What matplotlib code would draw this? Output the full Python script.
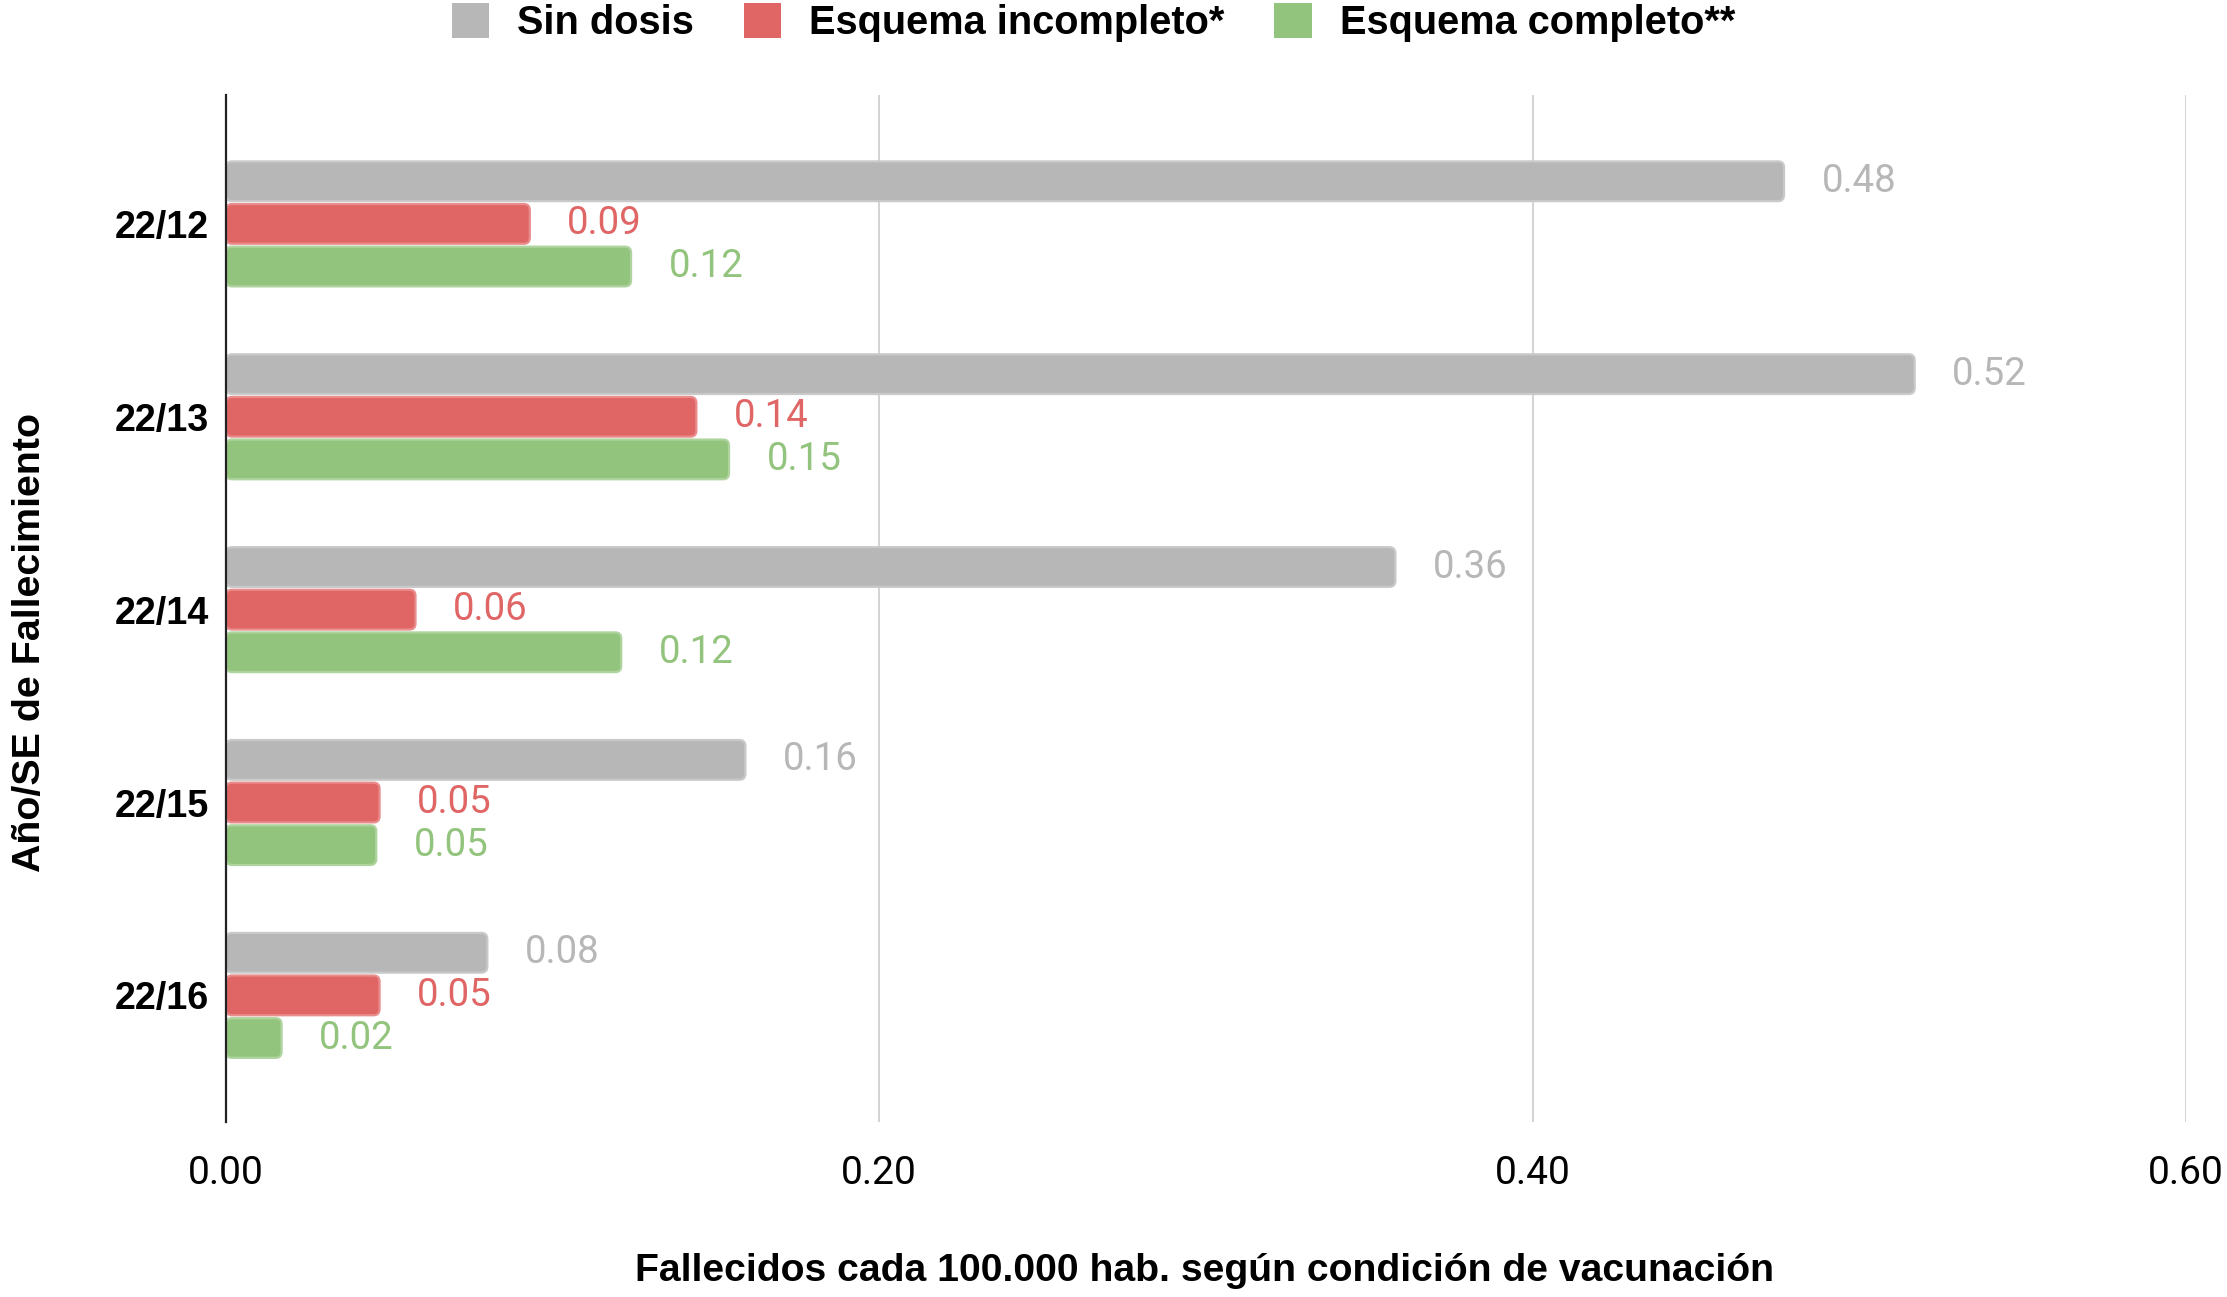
import numpy as np
import matplotlib.pyplot as plt
from matplotlib.patches import Patch, FancyBboxPatch

# Data (deaths per 100k by vaccination status)
weeks = ['22/12', '22/13', '22/14', '22/15', '22/16']
sin_dosis = [0.477, 0.517, 0.358, 0.159, 0.080]
incompleto = [0.093, 0.144, 0.058, 0.047, 0.047]
completo = [0.124, 0.154, 0.121, 0.046, 0.017]

series = [
    ('Sin dosis', sin_dosis, '#b7b7b7', '#c9c9c9'),
    ('Esquema incompleto*', incompleto, '#e06666', '#e98c8c'),
    ('Esquema completo**', completo, '#93c47d', '#b0d4a0'),
]

fig = plt.figure(figsize=(11.135, 6.485), dpi=200)
ax = fig.add_axes([0.1015, 0.135, 0.88, 0.792])
ax.set_xlim(0, 0.6)
ax.set_ylim(4.656, -0.67)

# ratio of y data units to x data units per pixel, for round corners
bb = ax.get_position()
xpp = 0.6 / (bb.width * 2227)
ypp = 5.326 / (bb.height * 1297)
aspect = ypp / xpp

y = np.arange(len(weeks))
h = 0.206
step = 0.221
for i, (name, vals, col, edge) in enumerate(series):
    pos = y + (i - 1) * step
    bars = ax.barh(pos, vals, height=h, color=col, zorder=3)
    for b in bars:
        b.set_visible(False)
        ax.add_patch(FancyBboxPatch((b.get_x(), b.get_y()), b.get_width(), b.get_height(),
                                    boxstyle='round,pad=0,rounding_size=%f' % (6 * xpp),
                                    mutation_aspect=aspect, facecolor=col, edgecolor=edge,
                                    linewidth=0.8, zorder=3))
    for p, v in zip(pos, vals):
        ax.annotate(f'{v:.2f}', (v, p), xytext=(13.5, 0), textcoords='offset points',
                    va='center', ha='left', fontsize=13.8, color=col, family='Roboto')

ax.set_xticks([0, 0.2, 0.4, 0.6])
ax.set_xticklabels(['0.00', '0.20', '0.40', '0.60'], family='Roboto', fontsize=14)
ax.set_yticks(y)
ax.set_yticklabels(weeks, family='Liberation Sans', fontweight='bold', fontsize=13.6)
ax.tick_params(axis='both', length=0)
ax.tick_params(axis='x', pad=12)
ax.tick_params(axis='y', pad=6)
ax.grid(axis='x', color='#cccccc', linewidth=0.6, zorder=0)
for s in ['top', 'right', 'bottom']:
    ax.spines[s].set_visible(False)
ax.spines['left'].set_color('#222222')
ax.spines['left'].set_linewidth(0.8)
ax.spines['left'].set_zorder(4)

fig.text(0.0135, 0.505, 'Año/SE de Fallecimiento', rotation=90, va='center', ha='center',
         family='Liberation Sans', fontweight='bold', fontsize=14.2)
fig.text(0.541, 0.02, 'Fallecidos cada 100.000 hab. según condición de vacunación',
         va='center', ha='center', family='Liberation Sans', fontweight='bold', fontsize=14.1)

handles = [Patch(facecolor=c, edgecolor='none', label=n) for n, _, c, _ in series]
fig.legend(handles=handles, loc='center', bbox_to_anchor=(0.491, 0.9825), ncol=3,
           frameon=False, handlelength=0.95, handleheight=0.95, handletextpad=0.7,
           columnspacing=1.25, prop={'family': 'Liberation Sans', 'weight': 'bold', 'size': 14.3})

fig.savefig('out.png', dpi=200)
